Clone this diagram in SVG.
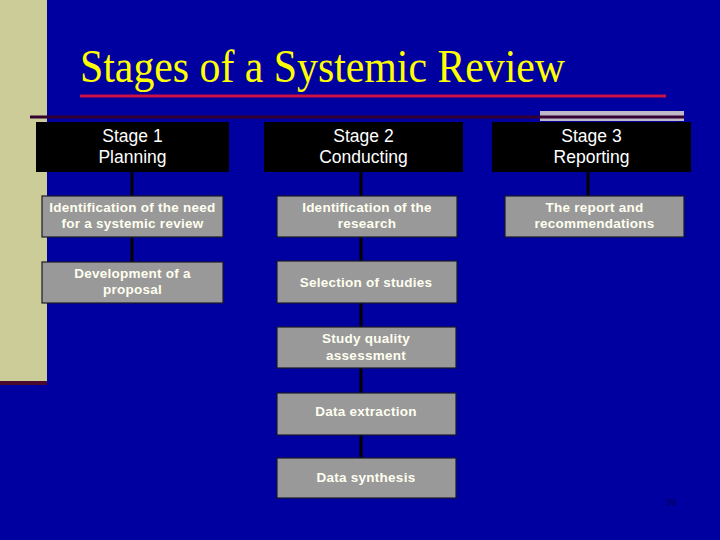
<svg xmlns="http://www.w3.org/2000/svg" width="720" height="540" viewBox="0 0 720 540">
<style>
.hdr{fill:#000000}
.hdrt{font-family:"Liberation Sans",Arial,sans-serif;font-size:17.5px;fill:#FFFFFF;text-anchor:middle}
.box{fill:#999999;stroke:#1a1a2a;stroke-width:1.2}
.boxt{font-family:"Liberation Sans",Arial,sans-serif;font-size:13.5px;font-weight:bold;fill:#FFFFF0;text-anchor:middle;letter-spacing:0.25px}
.con line{stroke:#000000;stroke-width:3}
</style>
<rect x="0" y="0" width="720" height="540" fill="#0000A0"/>
<rect x="0" y="0" width="47" height="382" fill="#CCCC99"/>
<rect x="0" y="381" width="47" height="4" fill="#4a0a30"/>
<text x="80" y="82" font-family="'Liberation Serif','Times New Roman',serif" font-size="46" fill="#FFFF00" textLength="485" lengthAdjust="spacingAndGlyphs">Stages of a Systemic Review</text>
<rect x="80" y="94.5" width="586" height="3" fill="#CC1144"/>
<rect x="540" y="111" width="144" height="10" fill="#C0B8C8"/>
<rect x="30" y="115.5" width="654" height="3" fill="#330033"/>

<g class="con">
<line x1="132" y1="172" x2="132" y2="196"/>
<line x1="132" y1="237" x2="132" y2="262"/>
<line x1="361" y1="172" x2="361" y2="196"/>
<line x1="361" y1="237" x2="361" y2="261"/>
<line x1="361" y1="303" x2="361" y2="327"/>
<line x1="361" y1="368" x2="361" y2="393"/>
<line x1="361" y1="435" x2="361" y2="458"/>
<line x1="588" y1="172" x2="588" y2="196"/>
</g>

<g id="stage1">
<rect class="hdr" x="36" y="122" width="193" height="50"/>
<text class="hdrt" x="132.5" y="142">Stage 1</text>
<text class="hdrt" x="132.5" y="163">Planning</text>
</g>
<g id="stage2">
<rect class="hdr" x="264" y="122" width="199" height="50"/>
<text class="hdrt" x="363.5" y="142">Stage 2</text>
<text class="hdrt" x="363.5" y="163">Conducting</text>
</g>
<g id="stage3">
<rect class="hdr" x="492" y="122" width="199" height="50"/>
<text class="hdrt" x="591.5" y="142">Stage 3</text>
<text class="hdrt" x="591.5" y="163">Reporting</text>
</g>

<g id="need">
<rect class="box" x="42" y="196" width="181" height="41"/>
<text class="boxt" x="132.5" y="212">Identification of the need</text>
<text class="boxt" x="132.5" y="228">for a systemic review</text>
</g>
<g id="proposal">
<rect class="box" x="42" y="262" width="181" height="41"/>
<text class="boxt" x="132.5" y="278">Development of a</text>
<text class="boxt" x="132.5" y="294">proposal</text>
</g>
<g id="research">
<rect class="box" x="277" y="196" width="180" height="41"/>
<text class="boxt" x="367" y="212">Identification of the</text>
<text class="boxt" x="367" y="228">research</text>
</g>
<g id="selection">
<rect class="box" x="277" y="261" width="180" height="42"/>
<text class="boxt" x="366" y="287">Selection of studies</text>
</g>
<g id="quality">
<rect class="box" x="277" y="327" width="179" height="41"/>
<text class="boxt" x="366" y="343">Study quality</text>
<text class="boxt" x="366" y="360">assessment</text>
</g>
<g id="extraction">
<rect class="box" x="277" y="393" width="179" height="42"/>
<text class="boxt" x="366" y="416">Data extraction</text>
</g>
<g id="synthesis">
<rect class="box" x="277" y="458" width="179" height="40"/>
<text class="boxt" x="366" y="482">Data synthesis</text>
</g>
<g id="report">
<rect class="box" x="505" y="196" width="179" height="41"/>
<text class="boxt" x="594.5" y="212">The report and</text>
<text class="boxt" x="594.5" y="228">recommendations</text>
</g>
<text x="671" y="505" font-family="'Liberation Sans',Arial,sans-serif" font-size="9" fill="#000050" text-anchor="middle">39</text>
</svg>
